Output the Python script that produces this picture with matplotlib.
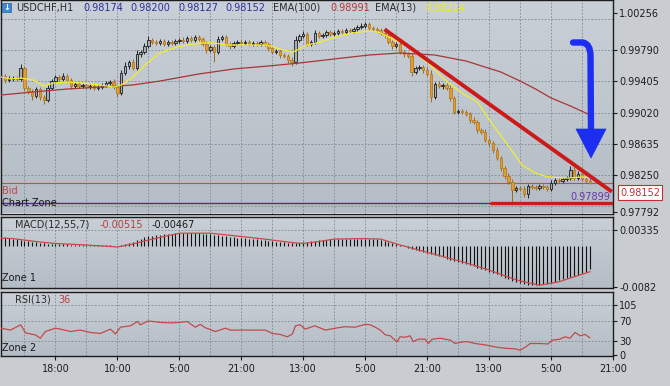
import numpy as np
import matplotlib.pyplot as plt
from matplotlib.colors import LinearSegmentedColormap
from matplotlib.path import Path
from matplotlib.patches import PathPatch, Polygon, Rectangle

plt.rcParams['font.family'] = ['DejaVu Sans']

# ---- hourly USDCHF candles (close of each bar, open = previous close) ----
first_open = 0.99455
closes = [
    0.99472, 0.99423, 0.99435, 0.99447, 0.99435, 0.99571, 0.99324, 0.99274, 0.99225, 0.99311,
    0.99212, 0.99175, 0.99324, 0.99410, 0.99460, 0.99435, 0.99472, 0.99423, 0.99348, 0.99373,
    0.99348, 0.99361, 0.99336, 0.99348, 0.99324, 0.99336, 0.99361, 0.99385, 0.99398, 0.99336,
    0.99262, 0.99509, 0.99596, 0.99645, 0.99571, 0.99744, 0.99769, 0.99844, 0.99918, 0.99893,
    0.99881, 0.99905, 0.99868, 0.99893, 0.99881, 0.99905, 0.99918, 0.99905, 0.99943, 0.99918,
    0.99955, 0.99930, 0.99868, 0.99794, 0.99831, 0.99769, 0.99930, 0.99955, 0.99868, 0.99844,
    0.99881, 0.99893, 0.99881, 0.99893, 0.99868, 0.99881, 0.99868, 0.99893, 0.99868, 0.99819,
    0.99769, 0.99782, 0.99732, 0.99720, 0.99670, 0.99645, 0.99918, 0.99967, 0.99992, 0.99868,
    0.99893, 1.00004, 0.99967, 0.99980, 1.00017, 0.99992, 1.00004, 1.00029, 1.00017, 1.00042,
    1.00029, 1.00054, 1.00079, 1.00091, 1.00116, 1.00066, 1.00054, 1.00042, 1.00004, 0.99980,
    0.99893, 0.99844, 0.99868, 0.99769, 0.99744, 0.99720, 0.99522, 0.99571, 0.99584, 0.99546,
    0.99497, 0.99212, 0.99373, 0.99348, 0.99361, 0.99324, 0.99200, 0.99026, 0.99039, 0.99026,
    0.99002, 0.98927, 0.98903, 0.98804, 0.98779, 0.98680, 0.98643, 0.98556, 0.98457, 0.98333,
    0.98234, 0.98160, 0.98061, 0.98086, 0.98073, 0.98011, 0.98110, 0.98098, 0.98086, 0.98110,
    0.98098, 0.98073, 0.98147, 0.98185, 0.98178, 0.98197, 0.98209, 0.98308, 0.98209, 0.98259,
    0.98197, 0.98174, 0.98152,
]
# wick lengths in pips above / below the body
wick_up = [
    3, 2, 4, 3, 2, 5, 3, 2, 4, 3, 2, 3, 4, 3, 2, 3, 4, 2, 3, 2,
    3, 2, 2, 3, 2, 3, 2, 3, 2, 4, 3, 4, 5, 3, 4, 5, 3, 4, 5, 3,
    2, 3, 2, 3, 2, 3, 2, 4, 2, 3, 3, 2, 3, 4, 3, 2, 4, 3, 2, 3,
    2, 3, 2, 2, 3, 2, 3, 2, 3, 2, 3, 2, 3, 2, 3, 4, 5, 3, 4, 3,
    3, 4, 2, 3, 3, 2, 3, 3, 2, 3, 2, 3, 3, 4, 3, 2, 3, 2, 3, 3,
    4, 3, 3, 4, 3, 3, 4, 3, 3, 3, 4, 5, 3, 4, 3, 3, 4, 3, 3, 3,
    3, 3, 4, 3, 3, 4, 3, 3, 4, 3, 3, 4, 4, 3, 3, 4, 3, 3, 3, 3,
    3, 3, 4, 3, 3, 3, 3, 5, 4, 4, 3, 3, 3,
]
wick_dn = [
    3, 4, 2, 3, 3, 2, 4, 3, 5, 3, 4, 5, 3, 2, 3, 3, 2, 3, 4, 3,
    2, 3, 3, 2, 3, 2, 3, 2, 3, 3, 5, 3, 3, 4, 3, 3, 4, 2, 3, 3,
    3, 2, 3, 2, 3, 2, 3, 2, 3, 2, 2, 3, 3, 4, 3, 12, 3, 2, 3, 4,
    3, 2, 3, 2, 3, 3, 2, 3, 3, 4, 3, 3, 4, 3, 4, 5, 3, 2, 3, 3,
    3, 2, 3, 2, 3, 3, 2, 3, 2, 3, 3, 2, 3, 2, 3, 3, 2, 3, 3, 4,
    3, 4, 3, 3, 4, 3, 5, 3, 3, 4, 3, 6, 3, 3, 4, 3, 4, 3, 3, 3,
    3, 4, 3, 4, 3, 3, 4, 4, 3, 4, 4, 3, 16, 3, 3, 4, 5, 3, 3, 3,
    3, 3, 3, 3, 3, 3, 3, 3, 3, 3, 3, 3, 2,
]

# moving averages (bar index, price)
ema100_bars = [0, 8, 17, 26, 34, 41, 51, 60, 69, 77, 86, 95, 103, 112, 120, 129, 134, 138, 142, 147, 152]
ema100_vals = [0.99237, 0.99274, 0.99311, 0.99336, 0.99361, 0.99410, 0.99497, 0.99559, 0.99596, 0.99633,
               0.99683, 0.99732, 0.99757, 0.99732, 0.99658, 0.99522, 0.99410, 0.99311, 0.99200, 0.99101,
               0.98991]
ema13_bars = [0, 2.4, 5, 8.3, 11, 13.5, 17, 21, 25.6, 29, 31, 34, 37.7, 41, 44.5, 48, 51.4, 54.8, 58.4,
              61.7, 68.7, 72.8, 75.4, 79, 82.4, 86.3, 90.7, 94.8, 97.4, 100, 103.5, 107, 110.3, 114.6,
              119, 123, 127, 131.4, 134.5, 137.9, 141.2, 146.4, 150, 152]
ema13_vals = [0.99460, 0.99435, 0.99447, 0.99423, 0.99348, 0.99385, 0.99398, 0.99385, 0.99361, 0.99336,
              0.99361, 0.99460, 0.99633, 0.99757, 0.99819, 0.99856, 0.99881, 0.99881, 0.99856, 0.99856,
              0.99856, 0.99794, 0.99769, 0.99856, 0.99893, 0.99955, 1.00004, 1.00029, 1.00017, 0.99955,
              0.99881, 0.99757, 0.99633, 0.99423, 0.99262, 0.99150, 0.98866, 0.98581, 0.98370, 0.98271,
              0.98222, 0.98209, 0.98222, 0.98214]

# MACD(12,55,7)
macd_hist = [
    0.0020, 0.0019, 0.0018, 0.0016, 0.0015, 0.0014, 0.0012, 0.0011, 0.0010, 0.0009,
    0.0008, 0.0007, 0.0006, 0.0005, 0.0004, 0.0004, 0.0005, 0.0004, 0.0003, 0.0003,
    0.0003, 0.0003, 0.0003, 0.0002, 0.0002, 0.0003, 0.0003, 0.0002, 0.0002, 0.0001,
    0.0000, 0.0002, 0.0005, 0.0008, 0.0010, 0.0013, 0.0016, 0.0019, 0.0021, 0.0022,
    0.0023, 0.0024, 0.0025, 0.0026, 0.0026, 0.0027, 0.0027, 0.0027, 0.0028, 0.0027,
    0.0027, 0.0027, 0.0026, 0.0026, 0.0025, 0.0024, 0.0023, 0.0022, 0.0021, 0.0020,
    0.0019, 0.0018, 0.0017, 0.0017, 0.0016, 0.0015, 0.0015, 0.0014, 0.0013, 0.0012,
    0.0011, 0.0010, 0.0010, 0.0009, 0.0008, 0.0007, 0.0007, 0.0008, 0.0009, 0.0010,
    0.0011, 0.0012, 0.0013, 0.0014, 0.0014, 0.0015, 0.0015, 0.0016, 0.0016, 0.0016,
    0.0016, 0.0016, 0.0016, 0.0016, 0.0016, 0.0016, 0.0015, 0.0015, 0.0013, 0.0011,
    0.0009, 0.0007, 0.0005, 0.0002, 0.0000, -0.0003, -0.0006, -0.0007, -0.0009, -0.0011,
    -0.0013, -0.0016, -0.0018, -0.0020, -0.0022, -0.0025, -0.0028, -0.0030, -0.0032, -0.0033,
    -0.0035, -0.0038, -0.0040, -0.0043, -0.0046, -0.0048, -0.0051, -0.0054, -0.0057, -0.0061,
    -0.0064, -0.0067, -0.0071, -0.0073, -0.0075, -0.0077, -0.0078, -0.0079, -0.0079, -0.0078,
    -0.0077, -0.0076, -0.0074, -0.0072, -0.0069, -0.0067, -0.0064, -0.0062, -0.0060, -0.0058,
    -0.0055, -0.0051, -0.00467,
]
signal_bars = [0, 3, 6, 10, 14, 22, 30, 34, 38, 43, 46, 54, 60, 68, 75, 78, 82, 86, 93, 98,
               103, 111, 119, 126, 133, 139, 144, 152]
signal_vals = [0.0017, 0.0016, 0.0013, 0.0009, 0.0006, 0.0003, -0.0001, 0.0005, 0.0013, 0.0022,
               0.0027, 0.0027, 0.0022, 0.0015, 0.0008, 0.0006, 0.0010, 0.0015, 0.0016, 0.0015,
               0.0003, -0.0014, -0.0031, -0.0048, -0.0068, -0.0079, -0.0072, -0.00515]

# RSI(13)
rsi_bars = [0, 2.4, 5, 6.3, 8.8, 10.1, 11.4, 14, 15.3, 17.9, 20.4, 23, 25.6, 28.2, 29.5, 30.8, 33.4,
            35.2, 35.9, 38, 41.1, 43.7, 46.3, 48, 50.1, 51.4, 52.7, 55.3, 57.9, 59.2, 61.7, 68.2, 70,
            72, 73.9, 75.2, 76, 77.2, 78.5, 81, 83.7, 86.3, 88.8, 91.4, 94, 95.3, 96.6, 97.9, 99.2,
            100.5, 101.7, 102.3, 103, 104.3, 105.6, 106.4, 107.7, 109.5, 110.3, 111.3, 113.4, 116,
            117.2, 119, 120.3, 122.4, 125, 127.5, 130.1, 132.7, 134, 135.3, 136.6, 139.2, 141.2,
            142.3, 144.3, 145.6, 146.9, 148.2, 149.5, 150.8, 152]
rsi_vals = [56, 52, 63, 46, 42, 35, 49, 56, 54, 49, 52, 47, 45, 54, 44, 58, 61,
            70, 63, 71, 68, 67, 68, 70, 58, 64, 57, 49, 56, 52, 52, 52, 45,
            43, 38, 44, 61, 63, 54, 61, 52, 56, 59, 58, 64, 63, 58, 52, 42,
            40, 31, 28, 38, 37, 40, 28, 33, 33, 24, 33, 35, 31,
            24, 27, 28, 24, 21, 17, 14, 13, 10, 16, 24, 24, 23,
            31, 33, 38, 35, 47, 40, 43, 36]

time_ticks = [14, 30, 46, 62, 78, 94, 110, 126, 142, 158]
time_labels = ['18:00', '10:00', '5:00', '21:00', '13:00', '5:00', '21:00', '13:00', '5:00', '21:00']
price_labels = [1.00256, 0.99790, 0.99405, 0.99020, 0.98635, 0.98250, 0.97792]
price_grid = [1.00175, 0.99790, 0.99405, 0.99020, 0.98635, 0.98250, 0.97865]
bid = 0.98152
zone_level = 0.97899
trend_start = (99.0, 1.00050)
trend_end = (157.7, 0.98040)
support_start = 126.3

W, H = 670, 386
fig = plt.figure(figsize=(W / 100, H / 100), dpi=100, facecolor='#c9cdd2')


def fx(x):
    return x / W


def fy(y):
    return 1 - y / H


def panel(top, bottom):
    ax = fig.add_axes([0.5 / W, fy(bottom), 612.5 / W, (bottom - top) / H])
    cmap = LinearSegmentedColormap.from_list('bg', ['#c9d0d7', '#b4bcc5'])
    ax.imshow(np.linspace(0, 1, 128).reshape(-1, 1), cmap=cmap, aspect='auto',
              extent=(0, 1, 0, 1), transform=ax.transAxes, zorder=-10)
    for s in ax.spines.values():
        s.set_color('#1c1c1c')
        s.set_linewidth(1.0)
    ax.yaxis.tick_right()
    ax.tick_params(axis='y', length=3, width=0.8, labelsize=7, pad=1.5, colors='#1c1c1c')
    ax.tick_params(axis='x', length=0, labelbottom=False)
    for b in range(6, 158, 8):
        ax.axvline(b, color='#7d8792', lw=0.6, dashes=(2, 2), zorder=0)
    ax.set_xlim(-0.19, 158.0)
    return ax


grid_kw = dict(color='#7d8792', lw=0.6, dashes=(2, 2), zorder=0)

# ---------------- main price panel ----------------
ax = panel(0, 213.5)
ax.set_ylim(0.97770, 1.00413)
for g in price_grid:
    ax.axhline(g, **grid_kw)
ax.set_yticks(price_labels)
ax.set_yticklabels(['%.5f' % p for p in price_labels])

n = len(closes)
bars = np.arange(n)
c = np.array(closes)
o = np.concatenate([[first_open], c[:-1]])
top_b = np.maximum(o, c)
bot_b = np.minimum(o, c)
hi = top_b + np.array(wick_up[:n]) * 0.0001
lo = bot_b - np.array(wick_dn[:n]) * 0.0001
bull = c >= o
ax.vlines(bars[bull], lo[bull], hi[bull], color='#222222', lw=0.7, zorder=3)
ax.vlines(bars[~bull], lo[~bull], hi[~bull], color='#9a6a1e', lw=0.7, zorder=3)
body_h = np.maximum(top_b - bot_b, 0.00003)
ax.bar(bars[bull], body_h[bull], bottom=bot_b[bull], width=0.62, color='#a7aeb5',
       edgecolor='#1e1e1e', lw=0.6, zorder=4)
ax.bar(bars[~bull], body_h[~bull], bottom=bot_b[~bull], width=0.62, color='#e29c32',
       edgecolor='#b77b1f', lw=0.6, zorder=4)

ax.plot(ema100_bars, ema100_vals, color='#a83636', lw=0.9, zorder=5)
ax.plot(ema13_bars, ema13_vals, color='#f3ee2c', lw=0.9, zorder=5)

ax.axhline(bid, color='#cc4a4a', lw=0.8, zorder=2)
ax.axhline(zone_level, color='#5a2a9a', lw=1.0, zorder=2)
ax.plot([trend_start[0], trend_end[0]], [trend_start[1], trend_end[1]],
        color='#cc1a1a', lw=2.8, solid_capstyle='butt', zorder=6)
ax.plot([support_start, 158.0], [zone_level, zone_level], color='#cc1a1a', lw=2.4,
        solid_capstyle='butt', zorder=6)

# blue curved arrow
pts = [(573, 42.5), (583, 42.5), (590.5, 44), (590.5, 56), (591, 131)]
verts = [(fx(x), fy(y)) for x, y in pts]
path = Path(verts, [Path.MOVETO, Path.LINETO, Path.CURVE3, Path.CURVE3, Path.LINETO])
fig.add_artist(PathPatch(path, transform=fig.transFigure, fc='none', ec='#1b2ef2',
                         lw=4.6, capstyle='round', joinstyle='round'))
fig.add_artist(Polygon([(fx(576), fy(129)), (fx(606), fy(129)), (fx(591), fy(158))],
                       closed=True, transform=fig.transFigure, fc='#1b2ef2', ec='#1b2ef2', lw=0.5))

# header texts
fig.add_artist(Rectangle((fx(2), fy(12)), 9 / W, 9 / H, transform=fig.transFigure,
                         fc='#3c8ad8', ec='#2a5f9a', lw=0.5))
fig.text(fx(6.5), fy(7.5), '\u2193', color='white', fontsize=6, ha='center', va='center',
         fontweight='bold')
hdr = [(16, 'USDCHF,H1', '#2a2a2a'), (83, '0.98174', '#2b2f9e'), (130, '0.98200', '#2b2f9e'),
       (178, '0.98127', '#2b2f9e'), (225, '0.98152', '#2b2f9e'), (273, 'EMA(100)', '#2a2a2a'),
       (330, '0.98991', '#b83434'), (375, 'EMA(13)', '#2a2a2a'), (425, '0.98214', '#ecec1e')]
for x, s, col in hdr:
    fig.text(fx(x), fy(8), s, color=col, fontsize=7, ha='left', va='center')

fig.text(fx(2), fy(191), 'Bid', color='#c04545', fontsize=7, ha='left', va='center')
fig.text(fx(2), fy(203), 'Chart Zone', color='#151515', fontsize=7, ha='left', va='center')
fig.text(fx(610), fy(197), '%.5f' % zone_level, color='#6a36a6', fontsize=7, ha='right',
         va='center')
fig.text(fx(620), fy(192.5), '%.5f' % bid, color='#c03030', fontsize=7, ha='left', va='center',
         bbox=dict(boxstyle='square,pad=0.25', fc='white', ec='#c03030', lw=0.8))

# ---------------- MACD panel ----------------
ax2 = panel(216.5, 288)
ax2.set_ylim(-0.00846, 0.0061)
ax2.axhline(0.00335, **grid_kw)
ax2.set_yticks([0.00335, -0.0082])
ax2.set_yticklabels(['0.00335', '-0.0082'])
hb = np.arange(len(macd_hist))
ax2.vlines(hb, 0, macd_hist, color='#111111', lw=0.8, zorder=3)
ax2.plot(signal_bars, signal_vals, color='#c84848', lw=0.9, zorder=4)
fig.text(fx(15), fy(225), 'MACD(12,55,7)', color='#2a2a2a', fontsize=7, va='center')
fig.text(fx(100), fy(225), '-0.00515', color='#c03c3c', fontsize=7, va='center')
fig.text(fx(152), fy(225), '-0.00467', color='#1a1a1a', fontsize=7, va='center')
fig.text(fx(2), fy(278), 'Zone 1', color='#1a1a1a', fontsize=7, va='center')

# ---------------- RSI panel ----------------
ax3 = panel(292, 356)
ax3.set_ylim(-2.1, 131.5)
for g in [105, 70, 30]:
    ax3.axhline(g, **grid_kw)
ax3.set_yticks([105, 70, 30, 0])
ax3.plot(rsi_bars, rsi_vals, color='#c44a4a', lw=0.9, zorder=4)
ax3.set_xticks(time_ticks)
ax3.set_xticklabels(time_labels)
ax3.tick_params(axis='x', length=3, width=0.8, labelbottom=True, labelsize=7, pad=3,
                colors='#1c1c1c')
fig.text(fx(15), fy(300), 'RSI(13)', color='#2a2a2a', fontsize=7, va='center')
fig.text(fx(58), fy(300), '36', color='#c03c3c', fontsize=7, va='center')
fig.text(fx(2), fy(348), 'Zone 2', color='#1a1a1a', fontsize=7, va='center')

fig.savefig('out.png', dpi=100, facecolor=fig.get_facecolor())
